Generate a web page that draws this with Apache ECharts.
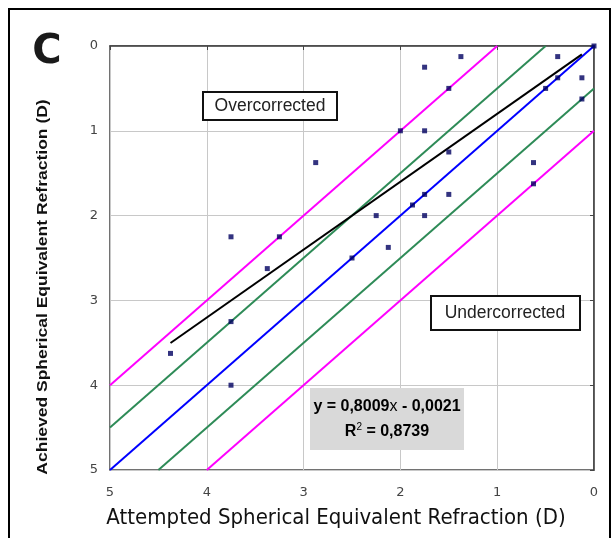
<!DOCTYPE html>
<html><head><meta charset="utf-8">
<script src="https://cdn.jsdelivr.net/npm/echarts@6/dist/echarts.min.js"></script>
<style>html,body{margin:0;padding:0;background:#fff}#c{width:614px;height:538px}</style>
</head><body><div id="c"></div>
<script>
// Data points [attempted, achieved]
const attempted = [0, 0.375, 1.375, 1.75, 0.125, 0.375, 0.5, 1.5, 0.125, 2.0, 1.75, 1.5, 0.625, 0.625, 1.75, 1.5, 1.875, 2.25, 1.75, 2.125, 2.5, 2.875, 3.75, 3.25, 3.375, 3.75, 4.375, 3.75];
const achieved  = [0, 0.125, 0.125, 0.25, 0.375, 0.375, 0.5, 0.5, 0.625, 1.0, 1.0, 1.25, 1.375, 1.625, 1.75, 1.75, 1.875, 2.0, 2.0, 2.375, 2.5, 1.375, 2.25, 2.25, 2.625, 3.25, 3.625, 4.0];
const trendLine = [[4.375, 3.502], [0.125, 0.098]];
const identityLine = [[5, 5], [0, 0]];
const greenUpper = [[5, 4.5], [0.5, 0]];
const greenLower = [[4.5, 5], [0, 0.5]];
const magentaUpper = [[5, 4], [1, 0]];
const magentaLower = [[4, 5], [0, 1]];
const tickValues = [0, 1, 2, 3, 4, 5];
const xTitle = 'Attempted Spherical Equivalent Refraction (D)';
const yTitle = 'Achieved Spherical Equivalent Refraction (D)';

const pts = attempted.map((a, i) => [a, achieved[i]]);
const chart = echarts.init(document.getElementById('c'), null, {renderer: 'canvas'});
const lineS = (data, color, w) => ({type: 'line', data, symbol: 'none', silent: true,
  lineStyle: {color, width: w}, z: 3, animation: false});
const axBase = {type: 'value', min: 0, max: 5, interval: 1, inverse: true};
chart.setOption({
  animation: false,
  grid: {left: 110, top: 46, right: 20, bottom: 68, show: true, borderColor: '#444', borderWidth: 1.5},
  xAxis: [
    Object.assign({}, axBase, {position: 'bottom',
      axisLine: {show: true, lineStyle: {color: '#444', width: 1.5}},
      axisTick: {show: false},
      axisLabel: {color: '#444', fontSize: 13, fontFamily: 'DejaVu Sans', margin: 16},
      splitLine: {show: true, lineStyle: {color: '#c8c8c8', width: 1}}}),
    Object.assign({}, axBase, {position: 'top',
      axisLine: {show: false}, axisTick: {show: true, inside: true, length: 4, lineStyle: {color: '#444'}},
      axisLabel: {show: false}, splitLine: {show: false}})
  ],
  yAxis: [
    Object.assign({}, axBase, {position: 'left',
      axisLine: {show: true, lineStyle: {color: '#444', width: 1.5}},
      axisTick: {show: false},
      axisLabel: {color: '#444', fontSize: 13, fontFamily: 'DejaVu Sans', margin: 12},
      splitLine: {show: true, lineStyle: {color: '#c8c8c8', width: 1}}}),
    Object.assign({}, axBase, {position: 'right',
      axisLine: {show: false}, axisTick: {show: true, inside: true, length: 4, lineStyle: {color: '#444'}},
      axisLabel: {show: false}, splitLine: {show: false}})
  ],
  series: [
    lineS(magentaUpper, '#ff00ff', 2),
    lineS(magentaLower, '#ff00ff', 2),
    lineS(greenUpper, '#2e8b57', 2),
    lineS(greenLower, '#2e8b57', 2),
    lineS(identityLine, '#0000ff', 2),
    lineS(trendLine, '#000000', 2),
    {type: 'scatter', data: pts, symbol: 'rect', symbolSize: 5,
      itemStyle: {color: '#000060'}, z: 5, animation: false}
  ],
  graphic: [
    {type: 'rect', shape: {x: 9, y: 9, width: 601, height: 540}, style: {fill: 'none', stroke: '#000', lineWidth: 2}, z: 0},
    {type: 'text', x: 47, y: 53, style: {text: 'C', font: 'bold 40px "DejaVu Sans"', fill: '#1a1a1a', align: 'center', verticalAlign: 'middle'}},
    {type: 'text', x: 336, y: 518, scaleX: 0.9, style: {text: xTitle, font: '22px "DejaVu Sans"', fill: '#111', align: 'center', verticalAlign: 'middle'}},
    {type: 'text', x: 43, y: 287, rotation: Math.PI / 2, scaleX: 1.25, style: {text: yTitle, font: 'bold 14px "Liberation Sans"', fill: '#111', align: 'center', verticalAlign: 'middle'}},
    {type: 'rect', shape: {x: 203, y: 92, width: 134, height: 28}, style: {fill: '#fff', stroke: '#111', lineWidth: 2}, z: 10},
    {type: 'text', x: 270, y: 106, style: {text: 'Overcorrected', font: '17.5px "Liberation Sans"', fill: '#222', align: 'center', verticalAlign: 'middle'}, z: 11},
    {type: 'rect', shape: {x: 431, y: 296, width: 149, height: 34}, style: {fill: '#fff', stroke: '#111', lineWidth: 2}, z: 10},
    {type: 'text', x: 505, y: 313, style: {text: 'Undercorrected', font: '17.5px "Liberation Sans"', fill: '#222', align: 'center', verticalAlign: 'middle'}, z: 11},
    {type: 'rect', shape: {x: 310, y: 388, width: 154, height: 62}, style: {fill: '#d9d9d9'}, z: 10},
    {type: 'text', x: 387, y: 407, style: {text: '{b|y = 0,8009}{n|x}{b| - 0,0021}', align: 'center', verticalAlign: 'middle',
      rich: {b: {font: 'bold 16px "Liberation Sans"', color: '#111'}, n: {font: '16px "Liberation Sans"', color: '#111'}}}, z: 11},
    {type: 'text', x: 387, y: 432, style: {text: '{a|R}{s|2}{a| = 0,8739}', align: 'center', verticalAlign: 'middle',
      rich: {a: {font: 'bold 16px "Liberation Sans"', color: '#111'}, s: {font: '10px "Liberation Sans"', color: '#111', verticalAlign: 'top', padding: [0, 0, 9, 0]}}}, z: 11}
  ]
});
</script></body></html>
